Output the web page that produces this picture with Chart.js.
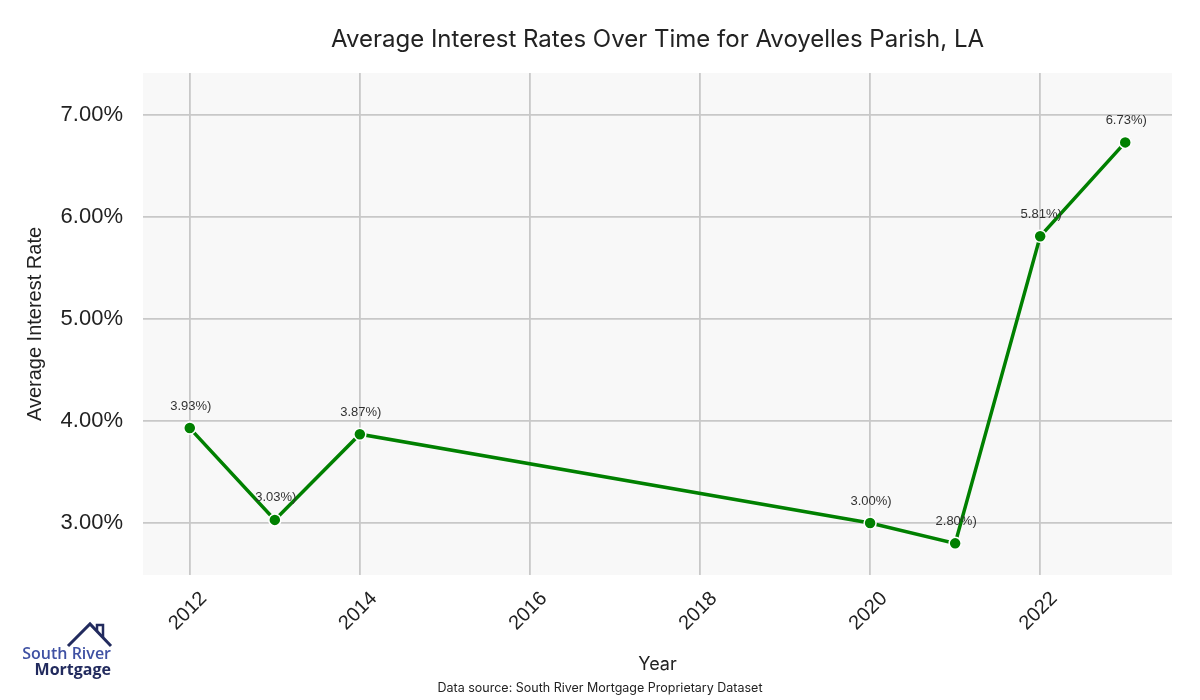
<!DOCTYPE html>
<html><head><meta charset="utf-8">
<script src="https://cdn.jsdelivr.net/npm/chart.js@4.4.1/dist/chart.umd.min.js"></script>
<style>html,body{margin:0;padding:0;background:#fff}#wrap{width:1200px;height:700px}</style>
</head><body><div id="wrap"><canvas id="c" width="1200" height="700"></canvas></div>
<script>
const years = [2012, 2013, 2014, 2020, 2021, 2022, 2023];
const rates = [3.93, 3.03, 3.87, 3.00, 2.80, 5.81, 6.73];
const xTicks = [2012, 2014, 2016, 2018, 2020, 2022];
const yTicks = [3, 4, 5, 6, 7];
const xRange = [2011.45, 2023.55];
const yRange = [2.49, 7.41];
const titleText = 'Average Interest Rates Over Time for Avoyelles Parish, LA';
const sourceText = 'Data source: South River Mortgage Proprietary Dataset';

const bgPlugin = {
  id: 'bg',
  beforeDraw(chart) {
    const {ctx, chartArea: a} = chart;
    ctx.save();
    ctx.fillStyle = '#ffffff';
    ctx.fillRect(0, 0, chart.width, chart.height);
    ctx.fillStyle = '#f8f8f8';
    ctx.fillRect(a.left, a.top, a.right - a.left, a.bottom - a.top);
    ctx.restore();
  }
};
const labelPlugin = {
  id: 'labels',
  afterDatasetsDraw(chart) {
    const {ctx} = chart;
    const meta = chart.getDatasetMeta(0);
    ctx.save();
    ctx.font = '13px "Liberation Sans", Arial, sans-serif';
    ctx.fillStyle = '#333333';
    ctx.textAlign = 'center';
    ctx.textBaseline = 'middle';
    meta.data.forEach((pt, i) => {
      ctx.fillText(rates[i].toFixed(2) + '%)', pt.x + 1, pt.y - 22);
    });
    ctx.restore();
  }
};
const logoPlugin = {
  id: 'logo',
  afterDraw(chart) {
    const {ctx} = chart;
    ctx.save();
    ctx.strokeStyle = '#222b5e';
    ctx.lineWidth = 3;
    ctx.lineJoin = 'miter';
    ctx.beginPath();
    ctx.moveTo(68, 646);
    ctx.lineTo(90, 624);
    ctx.lineTo(111, 646);
    ctx.stroke();
    ctx.lineWidth = 2.5;
    ctx.beginPath();
    ctx.moveTo(97, 631);
    ctx.lineTo(97, 625);
    ctx.lineTo(103, 625);
    ctx.lineTo(103, 637);
    ctx.stroke();
    ctx.textAlign = 'right';
    ctx.textBaseline = 'alphabetic';
    ctx.font = '600 16px "Open Sans", sans-serif';
    ctx.fillStyle = '#3f51a3';
    ctx.fillText('South River', 111, 659);
    ctx.font = 'bold 16px "Open Sans", sans-serif';
    ctx.fillStyle = '#222b5e';
    ctx.fillText('Mortgage', 111, 675);
    ctx.restore();
  }
};

new Chart(document.getElementById('c'), {
  type: 'line',
  data: {
    datasets: [{
      data: years.map((y, i) => ({x: y, y: rates[i]})),
      borderColor: '#008000',
      backgroundColor: '#008000',
      borderWidth: 3.5,
      pointRadius: 6,
      pointHoverRadius: 6,
      pointBackgroundColor: '#008000',
      pointBorderColor: '#ffffff',
      pointBorderWidth: 1.5,
      tension: 0,
      fill: false
    }]
  },
  options: {
    responsive: false,
    devicePixelRatio: 1,
    animation: false,
    layout: {padding: 0},
    plugins: {
      legend: {display: false},
      tooltip: {enabled: false},
      title: {
        display: true,
        text: titleText,
        fullSize: false,
        color: '#222222',
        font: {family: 'Inter, "Open Sans", sans-serif', size: 24, weight: 'normal', lineHeight: 1.2},
        padding: {top: 25, bottom: 19.2}
      },
      subtitle: {
        display: true,
        text: sourceText,
        position: 'bottom',
        color: '#222222',
        font: {family: 'Inter, "Open Sans", sans-serif', size: 12.5, weight: 'normal', lineHeight: 1.2},
        padding: {top: 2, bottom: 4}
      }
    },
    scales: {
      x: {
        type: 'linear',
        min: xRange[0],
        max: xRange[1],
        afterBuildTicks(s) { s.ticks = xTicks.map(v => ({value: v})); },
        afterFit(s) { s.height = 104; },
        border: {display: false},
        grid: {color: '#c8c8c8', lineWidth: 1.8, drawTicks: false},
        ticks: {
          minRotation: 45, maxRotation: 45,
          padding: 12,
          labelOffset: 14,
          color: '#222222',
          font: {family: '"Liberation Sans", Arial, sans-serif', size: 20},
          callback: v => String(v)
        },
        title: {
          display: true, text: 'Year', color: '#222222',
          font: {family: 'Inter, "Open Sans", sans-serif', size: 18, lineHeight: 1.2},
          padding: {top: 4, bottom: 4}
        }
      },
      y: {
        type: 'linear',
        min: yRange[0],
        max: yRange[1],
        afterBuildTicks(s) { s.ticks = yTicks.map(v => ({value: v})); },
        afterFit(s) { s.width = 143; },
        border: {display: false},
        grid: {color: '#c8c8c8', lineWidth: 1.8, drawTicks: false},
        ticks: {
          padding: 20,
          color: '#222222',
          font: {family: '"Liberation Sans", Arial, sans-serif', size: 22},
          callback: v => v.toFixed(2) + '%'
        },
        title: {
          display: true, text: 'Average Interest Rate', color: '#222222',
          font: {family: '"Liberation Sans", Arial, sans-serif', size: 20, lineHeight: 1.2},
          padding: {top: 23, bottom: 4}
        }
      },
      yRight: {
        type: 'linear',
        position: 'right',
        min: yRange[0],
        max: yRange[1],
        afterFit(s) { s.width = 28; },
        border: {display: false},
        grid: {display: false, drawTicks: false},
        ticks: {display: false}
      }
    }
  },
  plugins: [bgPlugin, labelPlugin, logoPlugin]
});
</script>
</body></html>
